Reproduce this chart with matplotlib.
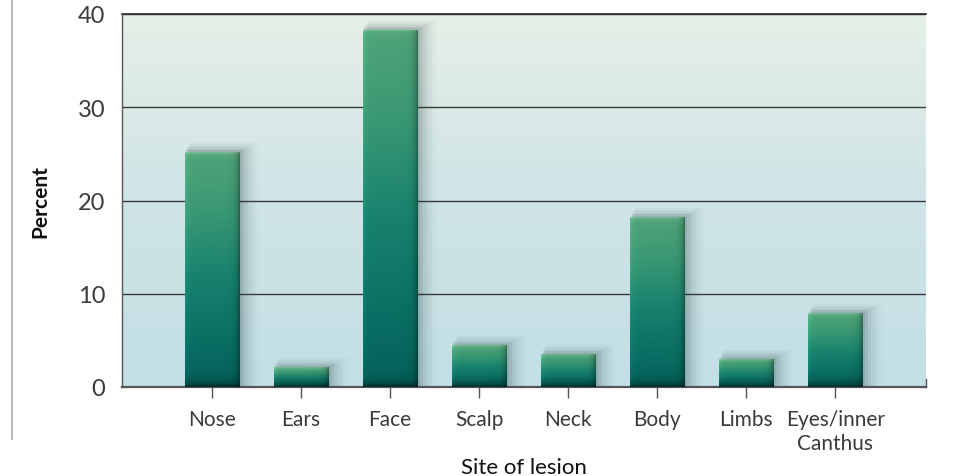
import numpy as np
import matplotlib.pyplot as plt
import matplotlib.colors as mcolors
from matplotlib.patches import Rectangle
from matplotlib.lines import Line2D

categories = ['Nose', 'Ears', 'Face', 'Scalp', 'Neck', 'Body', 'Limbs', 'Eyes/inner\nCanthus']
percent = [25.2, 2.1, 38.3, 4.5, 3.5, 18.2, 3.0, 7.9]
yticks = [0, 10, 20, 30, 40]

FONT = ['Lato', 'DejaVu Sans']
TEXT_COLOR = '#3a3a3a'
BAR_WIDTH = 0.61

plt.rcParams['font.family'] = FONT

fig = plt.figure(figsize=(9.54, 4.77), dpi=100)
ax = fig.add_axes([122 / 954, 1 - 388 / 477, (926 - 122) / 954, (388 - 15) / 477])

x = np.arange(len(categories))
XMIN, XMAX = -1.01, 8.02

# background gradient
bg = mcolors.LinearSegmentedColormap.from_list('bg', ['#c2dfe5', '#cfe4e6', '#e5efe7'])
ax.imshow(np.linspace(0, 1, 256).reshape(-1, 1), cmap=bg, origin='lower', aspect='auto',
          extent=[XMIN, XMAX, 0, 40], zorder=0)

for y in yticks[1:]:
    ax.axhline(y, color='#3a3a3a', lw=1.0, zorder=1)

# bars with soft shadow and gradient fill
vert = mcolors.LinearSegmentedColormap.from_list(
    'bar', ['#025c56', '#0a7064', '#18826e', '#389773', '#50a479'])
bars = ax.bar(x, percent, width=BAR_WIDTH, color='none', edgecolor='none', zorder=3)
for rect, val in zip(bars, percent):
    x0 = rect.get_x()
    w = rect.get_width()
    for i, a in enumerate([0.10, 0.08, 0.06, 0.045, 0.03, 0.02, 0.012]):
        d = 0.018 * (i + 1)
        ax.add_patch(Rectangle((x0 + d * 0.5, 0), w + d * 1.3, val + d * 9, color='#1e3c3c',
                               alpha=a, lw=0, zorder=2))
    ny = 300
    yy = np.linspace(0, val, ny)
    t = yy / val
    col = vert(0.05 + 0.95 * t)[:, :3]
    dark = 1 - 0.55 * np.exp(-yy / 0.45)
    col = col * dark[:, None]
    hi = np.exp(-(val - yy) / 0.18)
    col = col + (np.array([0.62, 0.82, 0.68]) - col) * 0.55 * hi[:, None]
    nx = 80
    xx = np.linspace(0, 1, nx)
    shade = 1 + 0.12 * np.exp(-xx / 0.05) - 0.35 * np.exp(-(1 - xx) / 0.06)
    img = np.clip(col[:, None, :] * shade[None, :, None], 0, 1)
    im = ax.imshow(img, origin='lower', aspect='auto', extent=[x0, x0 + w, 0, val],
                   zorder=3, interpolation='bilinear')
    im.set_clip_path(rect)

ax.set_xlim(XMIN, XMAX)
ax.set_ylim(0, 40)

for side in ['top', 'right']:
    ax.spines[side].set_visible(False)
ax.spines['left'].set_color('#555555')
ax.spines['bottom'].set_color('#555555')
ax.spines['bottom'].set_linewidth(1.6)
ax.spines['left'].set_linewidth(1.0)
ax.axhline(40, color='#2a2a2a', lw=1.2, zorder=1, clip_on=False)
ax.plot([XMAX, XMAX], [0, 0.9], color='#555555', lw=1.0, clip_on=False, zorder=4)

ax.set_xticks(x)
ax.set_xticklabels(categories, fontsize=15, color=TEXT_COLOR, linespacing=1.25)
ax.set_yticks(yticks)
ax.set_yticklabels([str(v) for v in yticks], fontsize=17, color=TEXT_COLOR)
ax.tick_params(axis='x', length=8, width=1, color='#555555', pad=8, direction='out')
ax.tick_params(axis='y', length=0, pad=12)

ax.set_xlabel('Site of lesion', fontsize=16, color='#111111', labelpad=3)
ax.set_ylabel('Percent', fontsize=15, color='#111111', fontweight='bold', labelpad=20)

# page rule on the left
fig.add_artist(Line2D([12 / 954, 12 / 954], [1, 1 - 440 / 477], color='#aaaaaa', lw=1.2))

fig.savefig('out.png', dpi=100)
